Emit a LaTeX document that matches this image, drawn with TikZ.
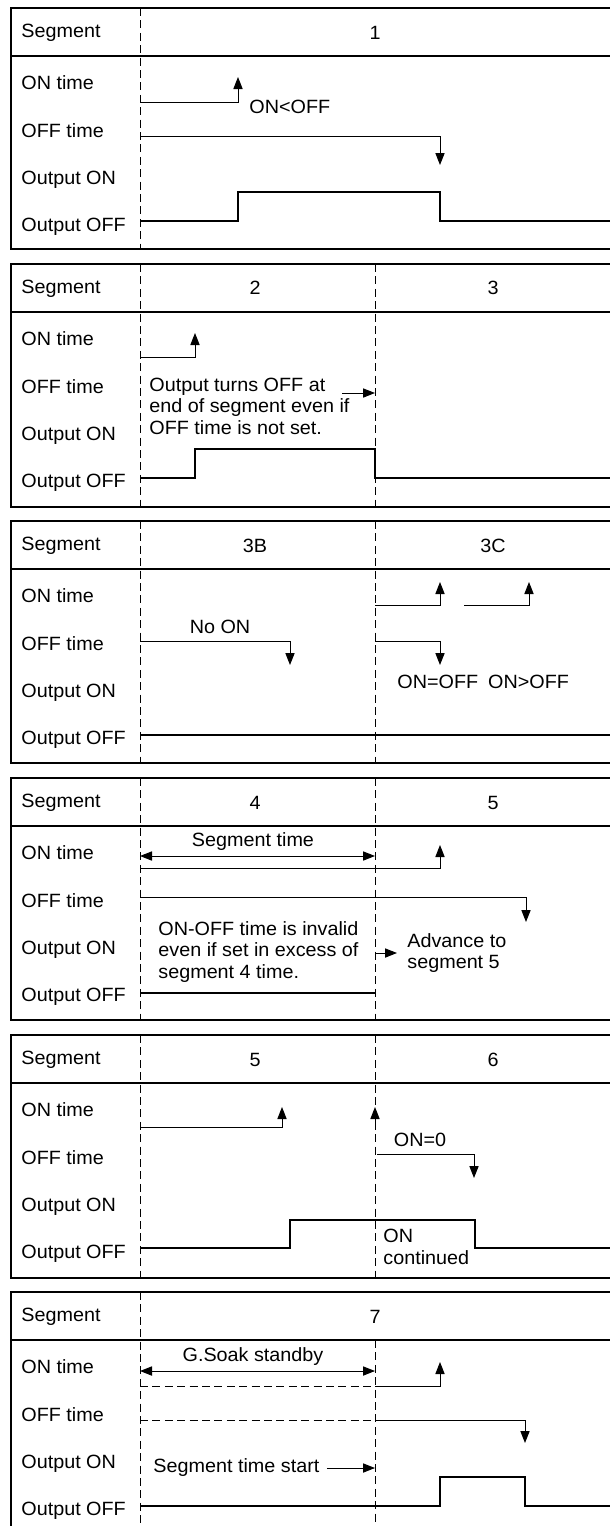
\documentclass[tikz,border=0pt]{standalone}
\usepackage{fontspec}
\setmainfont{Liberation Sans}[FakeStretch=1.03]
\usetikzlibrary{arrows.meta}

% frame, header line, row labels and left guide of one chart
\newcommand{\tchart}[1]{%
  \draw[frame] (11,0) rectangle (640,#1);
  \draw[frame] (11,48) -- (640,48);
  \foreach \t/\y in {Segment/25, ON time/75, OFF time/123, Output ON/172, Output OFF/219}
    \node[lbl] (r\y) at (21,\y) {\t};
  \draw[guide] (140,0) -- (140,#1);
}

\begin{document}
\begin{tikzpicture}[x=0.5pt, y=-0.5pt, >={Triangle[length=6pt,width=4.6pt]},
  frame/.style={line width=0.7pt},
  guide/.style={line width=0.5pt, dash pattern=on 4pt off 2.2pt},
  sig/.style={line width=0.5pt},
  outl/.style={line width=1.3pt},
  lbl/.style={anchor=west, inner sep=0pt, font=\fontsize{9.6}{10.75}\selectfont},
  hd/.style={lbl, anchor=center}]
\useasboundingbox (0,0) rectangle (610,1526);
\clip (0,0) rectangle (610,1526);

\begin{scope}[shift={(0,8)}]
\tchart{241}
\node[hd] (s1) at (375,25) {1};
\draw[sig,->] (140,94) -| (238,69);
\node[lbl] (cmp1) at (249,99) {ON<OFF};
\draw[sig,->] (140,128) -| (440,157);
\draw[outl] (140,213) -| (238,184) -| (440,213) -- (640,213);
\end{scope}

\begin{scope}[shift={(0,264)}]
\tchart{243}
\draw[guide] (375,0) -- (375,243);
\node[hd] (s2) at (255,24) {2};
\node[hd] (s3) at (493,24) {3};
\draw[sig,->] (140,93) -| (195,69);
\node[lbl, align=left] (note2) at (149,142) {Output turns OFF at\\end of segment even if\\OFF time is not set.};
\draw[sig,->] (342,129) -- (375,129);
\draw[outl] (140,214) -| (195,185) -| (375,214) -- (640,214);
\end{scope}

\begin{scope}[shift={(0,521)}]
\tchart{242}
\draw[guide] (375,0) -- (375,242);
\node[hd] (s3b) at (255,25) {3B};
\node[hd] (s3c) at (493,25) {3C};
\draw[sig,->] (375,84) -| (440,61);
\draw[sig,->] (464,84) -| (529,61);
\node[hd] (noon) at (220,106) {No ON};
\draw[sig,->] (140,120) -| (290,144);
\draw[sig,->] (375,120) -| (440,144);
\node[lbl] (cmp3) at (397,161) {ON=OFF\hspace{5pt}ON>OFF};
\draw[outl] (140,214) -- (640,214);
\end{scope}

\begin{scope}[shift={(0,778)}]
\tchart{242}
\draw[guide] (375,0) -- (375,242);
\node[hd] (s4) at (255,25) {4};
\node[hd] (s5) at (493,25) {5};
\node[hd] (segt) at (253,64) {Segment time};
\draw[sig,<->] (140,78) -- (375,78);
\draw[sig,->] (140,90) -| (440,67);
\draw[sig,->] (140,119) -| (526,144);
\node[lbl, align=left] (inval) at (158,174) {ON-OFF time is invalid\\even if set in excess of\\segment 4 time.};
\node[lbl, align=left] (adv) at (407,175) {Advance to\\segment 5};
\draw[sig,->] (375,175) -- ([xshift=-5pt]adv.west);
\draw[outl] (140,215) -- (375,215);
\end{scope}

\begin{scope}[shift={(0,1035)}]
\tchart{243}
\draw[guide] (375,0) -- (375,243);
\node[hd] (s5b) at (255,25) {5};
\node[hd] (s6) at (493,25) {6};
\draw[sig,->] (140,92) -| (282,72);
\draw[sig,->] (375,88) -- (375,72);
\node[hd] (on0) at (420,105) {ON=0};
\draw[sig,->] (377,119) -| (474,143);
\draw[outl] (140,213) -| (290,185) -| (475,213) -- (640,213);
\node[lbl, align=left] (cont) at (383,212) {ON\\continued};
\end{scope}

\begin{scope}[shift={(0,1292)}]
\tchart{250}
\draw[guide] (375,48) -- (375,250);
\node[hd] (s7) at (375,25) {7};
\node[hd] (soak) at (253,65) {G.Soak standby};
\draw[sig,<->] (140,79) -- (375,79);
\draw[sig,dash pattern=on 4pt off 2.2pt] (140,94) -- (375,94);
\draw[sig,->] (375,94) -| (440,70);
\draw[sig,dash pattern=on 4pt off 2.2pt] (140,128) -- (375,128);
\draw[sig,->] (375,128) -| (525,151);
\node[lbl] (start) at (153,176) {Segment time start};
\draw[sig,->] ([xshift=3.5pt]start.east) -- (375,176);
\draw[outl] (140,214) -| (440,185) -| (525,214) -- (640,214);
\end{scope}
\end{tikzpicture}
\end{document}
